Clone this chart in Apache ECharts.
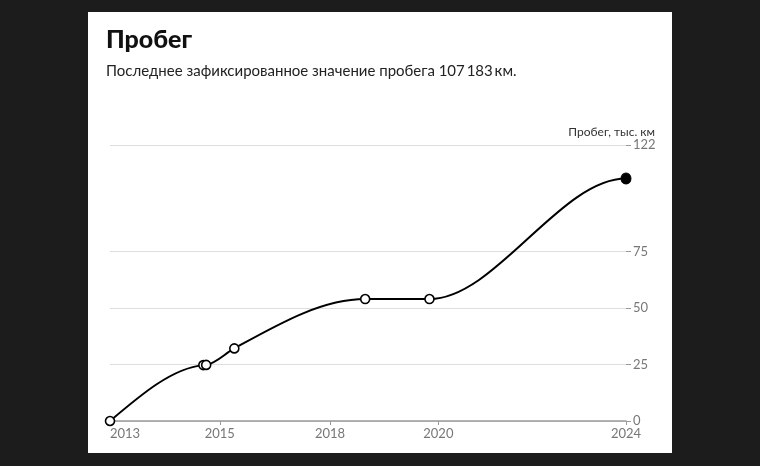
<!DOCTYPE html>
<html><head><meta charset="utf-8">
<script src="https://cdn.jsdelivr.net/npm/echarts@6/dist/echarts.min.js"></script>
<style>html,body{margin:0;padding:0;background:#1c1c1c}#c{width:760px;height:466px}</style>
</head><body><div id="c"></div>
<script>
const titleText = 'Пробег';
const subtitleText = 'Последнее зафиксированное значение пробега 107\u2009183\u2009км.';
const axisName = 'Пробег, тыс. км';
const years = [2013.0, 2014.99, 2015.05, 2015.65, 2018.44, 2019.81, 2024.0];
const mileage = [0, 24.7, 24.8, 32.1, 53.9, 53.9, 107.183];
const xTickValues = [2013, 2015.34, 2017.69, 2020, 2024];
const xTickLabels = ['2013', '2015', '2018', '2020', '2024'];
const yTickValues = [0, 25, 50, 75, 122];

const chart = echarts.init(document.getElementById('c'));
const font = 'Lato, "Noto Sans", sans-serif';

// monotone cubic (x-monotone) path through the projected points
function monotonePath(pts) {
  const n = pts.length;
  const sgn = v => (v < 0 ? -1 : 1);
  const sec = [];
  for (let i = 0; i < n - 1; i++) {
    const h = pts[i + 1][0] - pts[i][0];
    sec.push(h ? (pts[i + 1][1] - pts[i][1]) / h : 0);
  }
  const t = new Array(n).fill(0);
  for (let i = 1; i < n - 1; i++) {
    const h0 = pts[i][0] - pts[i - 1][0], h1 = pts[i + 1][0] - pts[i][0];
    const s0 = sec[i - 1], s1 = sec[i];
    const p = (s0 * h1 + s1 * h0) / (h0 + h1);
    t[i] = (sgn(s0) + sgn(s1)) * Math.min(Math.abs(s0), Math.abs(s1), 0.5 * Math.abs(p)) || 0;
  }
  t[0] = (3 * sec[0] - t[1]) / 2;
  t[n - 1] = 0; // line levels off at the latest reading
  let d = 'M' + pts[0][0] + ' ' + pts[0][1];
  for (let i = 0; i < n - 1; i++) {
    const dx = (pts[i + 1][0] - pts[i][0]) / 3;
    d += ' C' + (pts[i][0] + dx) + ' ' + (pts[i][1] + dx * t[i]) + ' ' +
         (pts[i + 1][0] - dx) + ' ' + (pts[i + 1][1] - dx * t[i + 1]) + ' ' +
         pts[i + 1][0] + ' ' + pts[i + 1][1];
  }
  return d;
}

const markers = years.map((y, i) => {
  const last = i === years.length - 1;
  return {
    value: [y, mileage[i]],
    symbolSize: last ? [10, 11] : 9,
    itemStyle: last ? {color: '#000', borderColor: '#000', borderWidth: 1, opacity: 1}
                    : {color: '#fff', borderColor: '#000', borderWidth: 1.6, opacity: 1}
  };
});

chart.setOption({
  backgroundColor: '#1c1c1c',
  animation: false,
  graphic: [
    {type: 'rect', shape: {x: 88, y: 12, width: 584, height: 441}, style: {fill: '#fff'}, z: -10},
    {type: 'text', right: 105, top: 126, style: {text: axisName, font: '12px ' + font, fill: '#333', textAlign: 'right'}}
  ],
  title: {
    text: titleText, subtext: subtitleText, left: 101, top: 22, itemGap: 12,
    textStyle: {fontFamily: font, fontWeight: 900, fontSize: 25, color: '#111'},
    subtextStyle: {fontFamily: font, fontSize: 15, color: '#222'}
  },
  grid: {left: 110, right: 134, top: 145, bottom: 45, containLabel: false},
  xAxis: {
    type: 'value', min: 2013, max: 2024,
    axisLine: {show: true, lineStyle: {color: '#9a9a9a', width: 1.5}},
    axisTick: {show: true, length: 4, customValues: xTickValues, lineStyle: {color: '#9a9a9a'}},
    axisLabel: {
      customValues: xTickValues, color: '#777', fontFamily: font, fontSize: 13, margin: 6,
      alignMinLabel: 'left',
      formatter: v => { const i = xTickValues.findIndex(t => Math.abs(t - v) < 1e-6); return i >= 0 ? xTickLabels[i] : ''; }
    },
    splitLine: {show: false}
  },
  yAxis: {
    type: 'value', position: 'right', min: 0, max: 122,
    axisLine: {show: false},
    axisTick: {show: true, inside: false, length: 5, customValues: yTickValues, lineStyle: {color: '#999'}},
    axisLabel: {customValues: yTickValues, color: '#777', fontFamily: font, fontSize: 13, margin: 7},
    splitLine: {show: true, lineStyle: {color: '#dedede', width: 1}}
  },
  series: [
    {
      type: 'custom', coordinateSystem: 'cartesian2d', data: [[years[0], mileage[0]]], z: 4, silent: true,
      renderItem: (params, api) => {
        const pts = years.map((x, i) => api.coord([x, mileage[i]]));
        return {type: 'path', shape: {pathData: monotonePath(pts)},
                style: {fill: 'none', stroke: '#000', lineWidth: 2}};
      }
    },
    {type: 'scatter', data: markers, symbol: 'circle', z: 6, itemStyle: {opacity: 1}}
  ]
});
</script></body></html>
